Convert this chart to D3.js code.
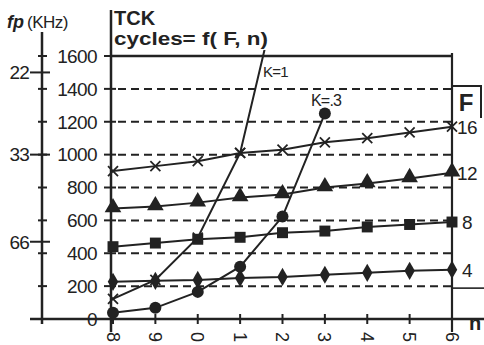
<!DOCTYPE html>
<html><head><meta charset="utf-8">
<script src="https://cdn.jsdelivr.net/npm/d3@7"></script>
<style>
html,body{margin:0;padding:0;background:#fff;}
svg{display:block;font-family:"Liberation Sans",Arial,sans-serif;}
</style></head>
<body>
<svg id="c" width="484" height="345"></svg>
<script>
// ---- data ----
const nLabels = ["8","9","0","1","2","3","4","5","6"];
const f4  = [226,232,238,250,256,269,281,293,300];
const f8  = [440,462,485,497,525,535,560,575,590];
const f12 = [672,684,708,739,757,800,824,855,890];
const f16 = [900,930,960,1010,1030,1075,1100,1135,1170];
const fNames = ["4","8","12","16"];
const k1  = [122,238,495,1010,2100];      // K=1, n = 8 .. 2
const k03 = [38,68,165,318,623,1250];     // K=.3, n = 8 .. 3
const yTicks = [0,200,400,600,800,1000,1200,1400,1600];
const freqLabels = ["22","33","66"];
const freqAt = [1500,1000,470];           // fp (KHz) marks, placed on the cycles scale

// ---- layout ----
const svg = d3.select("#c");
const ink = "#222";
const x = d3.scaleLinear().domain([0, nLabels.length-1]).range([113, 452]);
const y = d3.scaleLinear().domain([0,1600]).range([319, 56]);
const axX = 111, outX = 42;

// dashed grid
svg.append("g").selectAll("line").data(yTicks.filter(v=>v>0 && v<1600)).join("line")
  .attr("x1", axX+7).attr("x2", x(8)).attr("y1", d=>y(d)).attr("y2", d=>y(d))
  .attr("stroke", ink).attr("stroke-width", 2).attr("stroke-dasharray", "8,5");
// 200-level extension at right
svg.append("line").attr("x1", x(8)).attr("x2", 484).attr("y1", y(200)+2).attr("y2", y(200)+2)
  .attr("stroke", ink).attr("stroke-width", 1.6);

// frame: top line + right border + inner axis
svg.append("line").attr("x1", axX).attr("x2", x(8)).attr("y1", y(1600)).attr("y2", y(1600)).attr("stroke", ink).attr("stroke-width", 2.5);
svg.append("line").attr("x1", x(8)).attr("x2", x(8)).attr("y1", y(1600)-3).attr("y2", 332).attr("stroke", ink).attr("stroke-width", 2.2);
svg.append("line").attr("x1", axX).attr("x2", axX).attr("y1", 10).attr("y2", 332).attr("stroke", ink).attr("stroke-width", 2.5);
// bottom axis
svg.append("line").attr("x1", 30).attr("x2", 484).attr("y1", y(0)).attr("y2", y(0)).attr("stroke", ink).attr("stroke-width", 2.5);
// outer fp axis
svg.append("line").attr("x1", outX).attr("x2", outX).attr("y1", 32).attr("y2", 324).attr("stroke", ink).attr("stroke-width", 2.5);

// inner y ticks + labels
const yg = svg.append("g");
yg.selectAll("line.t").data(yTicks.filter(v=>v>0)).join("line").attr("class","t")
  .attr("x1", axX-7).attr("x2", axX+5).attr("y1", d=>y(d)).attr("y2", d=>y(d))
  .attr("stroke", ink).attr("stroke-width", 2);
yg.selectAll("text").data(yTicks).join("text")
  .attr("x", 97).attr("y", d=>y(d)).attr("dy", "0.36em").attr("text-anchor", "end")
  .attr("font-size", 19).attr("letter-spacing", -0.6).attr("fill", ink).text(d=>d);
// outer axis ticks
svg.append("g").selectAll("line").data(yTicks.filter(v=>v>0)).join("line")
  .attr("x1", outX-4).attr("x2", outX+5).attr("y1", d=>y(d)).attr("y2", d=>y(d))
  .attr("stroke", ink).attr("stroke-width", 2);
const fg = svg.append("g");
fg.selectAll("line").data(freqAt).join("line")
  .attr("x1", outX-12).attr("x2", outX+8).attr("y1", d=>y(d)).attr("y2", d=>y(d))
  .attr("stroke", ink).attr("stroke-width", 2);
fg.selectAll("text").data(freqLabels).join("text")
  .attr("x", outX-13).attr("y", (d,i)=>y(freqAt[i])).attr("dy","0.36em").attr("text-anchor","end")
  .attr("font-size", 19).attr("letter-spacing", -0.8).attr("fill", ink).text(d=>d);

// x ticks + rotated labels
const xg = svg.append("g");
xg.selectAll("line").data(nLabels).join("line")
  .attr("x1", (d,i)=>x(i)).attr("x2", (d,i)=>x(i)).attr("y1", y(0)-5).attr("y2", y(0)+5)
  .attr("stroke", ink).attr("stroke-width", 2);
xg.selectAll("text").data(nLabels).join("text")
  .attr("transform", (d,i)=>`translate(${x(i)},337) rotate(90)`)
  .attr("text-anchor","middle").attr("dy","0.36em")
  .attr("font-size", 18).attr("fill", ink).text(d=>d);

// clip for lines
svg.append("clipPath").attr("id","clip").append("rect").attr("x", 100).attr("y", 50).attr("width", 360).attr("height", 290);

const line = d3.line().x((d,i)=>x(i)).y(d=>y(d));
const plot = svg.append("g").attr("clip-path","url(#clip)");
const fSeries = [f4, f8, f12, f16];
fSeries.forEach(s => plot.append("path").attr("d", line(s)).attr("fill","none").attr("stroke", ink).attr("stroke-width", 2));
plot.append("path").attr("d", line(k1)).attr("fill","none").attr("stroke", ink).attr("stroke-width", 2);
plot.append("path").attr("d", line(k03)).attr("fill","none").attr("stroke", ink).attr("stroke-width", 2);

// markers
const mg = svg.append("g");
const sym = (type, size) => d3.symbol().type(type).size(size);
mg.selectAll("path.f4").data(f4).join("path").attr("class","f4")
  .attr("transform",(d,i)=>`translate(${x(i)},${y(d)})`).attr("d", sym(d3.symbolDiamond, 95)()).attr("fill", ink);
mg.selectAll("path.f8").data(f8).join("path").attr("class","f8")
  .attr("transform",(d,i)=>`translate(${x(i)},${y(d)})`).attr("d", sym(d3.symbolSquare, 120)()).attr("fill", ink);
mg.selectAll("path.f12").data(f12).join("path").attr("class","f12")
  .attr("transform",(d,i)=>`translate(${x(i)},${y(d)-1})`).attr("d", sym(d3.symbolTriangle, 120)()).attr("fill", ink);
const xMark = function(){ const g=d3.select(this);
  g.append("line").attr("x1",-5).attr("y1",-5).attr("x2",5).attr("y2",5).attr("stroke",ink).attr("stroke-width",1.8);
  g.append("line").attr("x1",-5).attr("y1",5).attr("x2",5).attr("y2",-5).attr("stroke",ink).attr("stroke-width",1.8);};
mg.selectAll("g.x16").data(f16).join("g").attr("class","x16")
  .attr("transform",(d,i)=>`translate(${x(i)},${y(d)})`).each(xMark);
mg.selectAll("g.xk1").data(k1.filter(v=>v<=1600)).join("g").attr("class","xk1")
  .attr("transform",(d,i)=>`translate(${x(i)},${y(d)})`).each(xMark);
mg.selectAll("circle.k03").data(k03).join("circle").attr("class","k03")
  .attr("cx",(d,i)=>x(i)).attr("cy",d=>y(d)).attr("r", 6).attr("fill", ink);

// series labels at right
svg.append("g").selectAll("text").data(fSeries).join("text")
  .attr("x", (d,i)=> fNames[i].length>1 ? 457 : 462).attr("y", d=>y(d[d.length-1])).attr("dy","0.36em")
  .attr("font-size", 19).attr("letter-spacing", -0.6).attr("fill", ink).text((d,i)=>fNames[i]);

// F legend box
svg.append("path").attr("d", `M${x(8)},86 H481 V118`).attr("fill","none").attr("stroke", ink).attr("stroke-width", 2);
svg.append("text").attr("x", 466).attr("y", 111).attr("text-anchor","middle").attr("font-size", 24).attr("font-weight","bold").attr("fill", ink).text("F");

// curve annotations
svg.append("text").attr("x", 263).attr("y", 77).attr("font-size", 15).attr("letter-spacing", -0.8).attr("fill", ink).text("K=1");
svg.append("text").attr("x", 311).attr("y", 106).attr("font-size", 16).attr("letter-spacing", -0.8).attr("fill", ink).text("K=.3");

// titles
svg.append("text").attr("x", 114).attr("y", 25).attr("font-size", 20).attr("font-weight","bold").attr("fill", ink).text("TCK");
svg.append("text").attr("x", 114).attr("y", 45).attr("font-size", 19).attr("font-weight","bold").attr("fill", ink)
  .attr("textLength", 154).attr("lengthAdjust","spacingAndGlyphs").text("cycles= f( F, n)");
const fp = svg.append("text").attr("x", 7).attr("y", 28).attr("fill", ink);
fp.append("tspan").attr("font-size", 18).attr("font-weight","bold").attr("font-style","italic").text("fp");
fp.append("tspan").attr("font-size", 17).attr("dx", 3).attr("letter-spacing", -0.5).text("(KHz)");
svg.append("text").attr("x", 469).attr("y", 330).attr("font-size", 20).attr("font-weight","bold").attr("fill", ink).text("n");
</script>
</body></html>
